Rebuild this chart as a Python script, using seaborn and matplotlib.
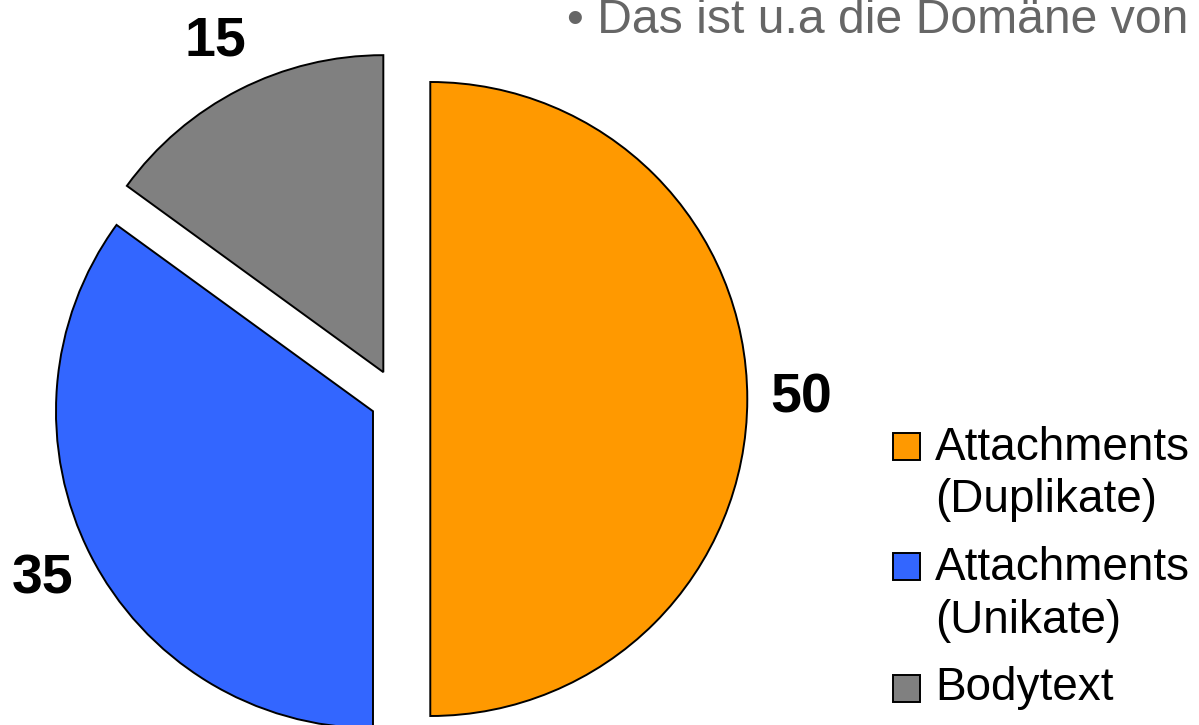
import matplotlib
matplotlib.use("Agg")
import matplotlib.pyplot as plt
from matplotlib.patches import Rectangle
import seaborn as sns

# Data
categories = ["Attachments\n(Duplikate)", "Attachments\n(Unikate)", "Bodytext"]
values = [50, 35, 15]
colors = ["#FF9900", "#3366FF", "#808080"]
explode = [0.105, 0.085, 0.095]
headline = "\u2022 Das ist u.a die Dom\u00e4ne von"

sns.set_theme(style="white")
plt.rcParams["font.family"] = ["Liberation Sans", "DejaVu Sans"]

W, H, DPI = 1199, 725, 100
fig = plt.figure(figsize=(W / DPI, H / DPI), dpi=DPI)
fig.patch.set_facecolor("white")

ax = fig.add_axes([0, 0, 1, 1])
palette = sns.color_palette(colors)
total = sum(values)

wedges, _, autotexts = ax.pie(
    values,
    colors=palette,
    explode=explode,
    startangle=90,
    counterclock=False,
    radius=1.0,
    autopct=lambda p: f"{p * total / 100:.0f}",
    pctdistance=1.17,
    wedgeprops=dict(edgecolor="black", linewidth=1.4),
    textprops=dict(fontsize=40, fontweight="bold", color="black"),
)

# pie centre at (397, 399) px, 317 px per unit radius
cx, cy, scale = 397, 399, 317
ax.set_xlim(-cx / scale, (W - cx) / scale)
ax.set_ylim(-(H - cy) / scale, cy / scale)
ax.set_aspect("auto")
ax.axis("off")


def fx(px):
    return px / W


def fy(py):
    return 1 - py / H


# Headline text (partly clipped at the top and right)
fig.text(fx(567), fy(33), headline, fontsize=34.7, color="#666666",
         ha="left", va="baseline")

# Legend
sq = 27
entries = [
    (446, ["Attachments", "(Duplikate)"], [460, 512]),
    (566, ["Attachments", "(Unikate)"], [580, 633]),
    (688, ["Bodytext"], [700]),
]
for (center_y, lines, baselines), col in zip(entries, palette):
    fig.patches.append(Rectangle((fx(893), fy(center_y + sq / 2)), sq / W, sq / H,
                                 transform=fig.transFigure, facecolor=col,
                                 edgecolor="black", linewidth=1.4))
    for line, b in zip(lines, baselines):
        fig.text(fx(935), fy(b), line, fontsize=33, color="black",
                 ha="left", va="baseline")

fig.savefig("out.png", dpi=DPI, facecolor="white")
